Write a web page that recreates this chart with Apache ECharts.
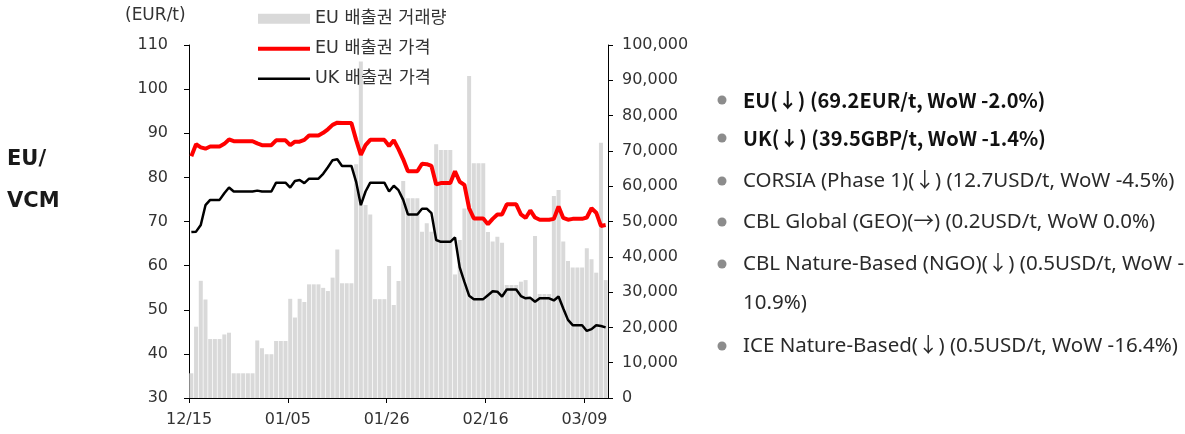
<!DOCTYPE html>
<html>
<head>
<meta charset="utf-8">
<script src="https://cdn.jsdelivr.net/npm/echarts@6/dist/echarts.min.js"></script>
<style>
  html, body { margin: 0; padding: 0; background: #ffffff; }
  #chart { width: 1185px; height: 434px; }
</style>
</head>
<body>
<div id="chart"></div>
<script>
// ---- DATA ----
const dates = [
  '12/15','12/16','12/17','12/18','12/19','12/20','12/21','12/22','12/23','12/24','12/25','12/26','12/27','12/28','12/29','12/30','12/31',
  '01/01','01/02','01/03','01/04','01/05','01/06','01/07','01/08','01/09','01/10','01/11','01/12','01/13','01/14','01/15','01/16','01/17','01/18','01/19','01/20','01/21','01/22','01/23','01/24','01/25','01/26','01/27','01/28','01/29','01/30','01/31',
  '02/01','02/02','02/03','02/04','02/05','02/06','02/07','02/08','02/09','02/10','02/11','02/12','02/13','02/14','02/15','02/16','02/17','02/18','02/19','02/20','02/21','02/22','02/23','02/24','02/25','02/26','02/27','02/28',
  '03/01','03/02','03/03','03/04','03/05','03/06','03/07','03/08','03/09','03/10','03/11','03/12','03/13'
];
const tickLabels = ['12/15','01/05','01/26','02/16','03/09'];

const euVolume = [
  7000,20200,33200,27900,16700,16700,16700,18000,18500,7000,7000,7000,7000,7000,16300,14100,12400,12400,16150,16150,16150,
  28100,22800,28100,27200,32200,32200,32200,31200,30300,34100,42100,32500,32500,32500,66200,95300,54700,52000,28000,28000,28000,
  37400,26350,33150,61500,56600,56600,56600,47100,49500,47100,71900,70250,70250,70250,35000,44750,53700,91200,66500,66500,66500,
  47000,44300,45700,44000,32000,32000,32000,32950,33400,28200,45900,29450,29450,29450,57200,58900,44300,38800,37000,37000,37000,
  42400,39300,35500,72300,33400
];
const euPrice = [
  84.8,87.5,86.8,86.5,87.0,87.0,87.0,87.6,88.6,88.2,88.2,88.2,88.2,88.2,87.7,87.3,87.3,87.3,88.4,88.4,88.4,
  87.3,88.1,88.1,88.5,89.5,89.5,89.5,90.1,90.9,91.9,92.4,92.3,92.3,92.3,88.5,85.1,87.3,88.5,88.5,88.5,88.5,
  87.1,88.4,86.4,84.1,81.4,81.4,81.4,83.1,83.0,82.6,78.4,78.7,78.7,78.7,81.4,79.0,78.3,73.0,70.7,70.7,70.7,
  69.4,70.6,71.6,71.6,73.9,73.9,73.9,71.6,70.8,72.5,70.9,70.4,70.4,70.4,70.6,73.4,70.8,70.4,70.6,70.6,70.6,
  70.9,73.0,72.0,69.0,69.2
];
const ukPrice = [
  67.6,67.7,69.2,73.7,74.9,74.9,74.9,76.4,77.7,76.8,76.8,76.8,76.8,76.8,77.0,76.8,76.8,76.8,78.8,78.8,78.8,
  77.7,79.2,79.4,78.7,79.7,79.7,79.7,80.8,82.3,83.9,84.1,82.6,82.6,82.6,79.0,73.7,76.8,78.8,78.8,78.8,78.8,
  76.8,78.1,77.1,74.9,71.6,71.6,71.6,72.9,72.9,71.9,65.8,65.4,65.4,65.4,66.4,59.6,56.3,53.2,52.4,52.4,52.4,
  53.3,54.2,54.1,53.0,54.6,54.6,54.6,53.1,52.6,52.7,51.8,52.6,52.6,52.6,52.1,53.0,50.3,47.7,46.5,46.5,46.5,
  45.2,45.6,46.5,46.3,46.0
];
const seriesNames = ['EU 배출권 거래량', 'EU 배출권 가격', 'UK 배출권 가격'];
const sideTitle = ['EU/', 'VCM'];
const notes = [
  { text: 'EU(↓) (69.2EUR/t, WoW -2.0%)', bold: true },
  { text: 'UK(↓) (39.5GBP/t, WoW -1.4%)', bold: true },
  { text: 'CORSIA (Phase 1)(↓) (12.7USD/t, WoW -4.5%)', bold: false },
  { text: 'CBL Global (GEO)(→) (0.2USD/t, WoW 0.0%)', bold: false },
  { text: 'CBL Nature-Based (NGO)(↓) (0.5USD/t, WoW -', cont: '10.9%)', bold: false },
  { text: 'ICE Nature-Based(↓) (0.5USD/t, WoW -16.4%)', bold: false }
];

// ---- BUILD ----
const AXFONT = '"DejaVu Sans", "Noto Sans CJK KR", sans-serif';
const TXFONT = '"Noto Sans", "Noto Sans CJK KR", sans-serif';
const BDFONT = '"Noto Sans CJK KR", "Noto Sans", sans-serif';
const tickVals = tickLabels.map(l => dates.indexOf(l));
const toPts = arr => arr.map((v, i) => [i + 0.5, v]);

const graphics = [];
graphics.push({ type: 'text', left: 125, top: 7, style: { text: '(EUR/t)', font: '17px ' + AXFONT, fill: '#333' } });
graphics.push({ type: 'text', x: 7, y: 160, style: { text: sideTitle[0], font: 'bold 21px ' + AXFONT, fill: '#1a1a1a', verticalAlign: 'middle' } });
graphics.push({ type: 'text', x: 7, y: 202, style: { text: sideTitle[1], font: 'bold 21px ' + AXFONT, fill: '#1a1a1a', verticalAlign: 'middle' } });

const lineYs = [100, 138, 181, 222, 264, 346];
notes.forEach((n, k) => {
  const y = lineYs[k];
  graphics.push({ type: 'circle', shape: { cx: 722, cy: y, r: 4.5 }, style: { fill: '#8c8c8c' } });
  graphics.push({ type: 'text', x: 743, y: y, style: { text: n.text, font: n.bold ? ('bold 20px ' + BDFONT) : ('20.5px ' + TXFONT), fill: n.bold ? '#111' : '#2a2a2a', verticalAlign: 'middle' } });
  if (n.cont) {
    graphics.push({ type: 'text', x: 743, y: y + 39, style: { text: n.cont, font: '20.5px ' + TXFONT, fill: '#2a2a2a', verticalAlign: 'middle' } });
  }
});

const chart = echarts.init(document.getElementById('chart'), null, { renderer: 'canvas' });
chart.setOption({
  animation: false,
  backgroundColor: '#ffffff',
  textStyle: { fontFamily: AXFONT },
  grid: { left: 189, right: 577, top: 45, bottom: 36, containLabel: false },
  legend: {
    orient: 'vertical', left: 253, top: 5,
    itemWidth: 52, itemHeight: 10, itemGap: 12.5,
    textStyle: { fontSize: 17.5, color: '#333', lineHeight: 16, fontFamily: AXFONT },
    data: [
      { name: seriesNames[0], icon: 'rect' },
      { name: seriesNames[1], icon: 'path://M0,0H52V4H0Z' },
      { name: seriesNames[2], icon: 'path://M0,0H52V2.5H0Z' }
    ]
  },
  xAxis: {
    type: 'value', min: 0, max: dates.length,
    splitLine: { show: false },
    axisLine: { show: true, lineStyle: { color: '#000', width: 1 } },
    axisTick: { show: true, customValues: tickVals, length: 5, lineStyle: { color: '#000' } },
    axisLabel: {
      customValues: tickVals, margin: 14, fontSize: 16, color: '#333', fontFamily: AXFONT,
      formatter: v => dates[Math.round(v)] || ''
    }
  },
  yAxis: [
    {
      type: 'value', min: 30, max: 110, interval: 10, position: 'left',
      splitLine: { show: false },
      axisLine: { show: true, lineStyle: { color: '#000', width: 1 } },
      axisTick: { show: true, length: 5, lineStyle: { color: '#000' } },
      axisLabel: { margin: 21, fontSize: 16, color: '#333', fontFamily: AXFONT }
    },
    {
      type: 'value', min: 0, max: 100000, interval: 10000, position: 'right',
      splitLine: { show: false },
      axisLine: { show: true, lineStyle: { color: '#000', width: 1 } },
      axisTick: { show: true, length: 5, lineStyle: { color: '#000' } },
      axisLabel: { margin: 14, fontSize: 16, color: '#333', fontFamily: AXFONT,
        formatter: v => v.toLocaleString('en-US') }
    }
  ],
  series: [
    {
      name: seriesNames[0], type: 'bar', yAxisIndex: 1, data: toPts(euVolume),
      barWidth: 4, itemStyle: { color: '#d9d9d9' }, z: 1
    },
    {
      name: seriesNames[1], type: 'line', yAxisIndex: 0, data: toPts(euPrice),
      symbol: 'none', lineStyle: { color: '#ff0000', width: 4 }, itemStyle: { color: '#ff0000' }, z: 3
    },
    {
      name: seriesNames[2], type: 'line', yAxisIndex: 0, data: toPts(ukPrice),
      symbol: 'none', lineStyle: { color: '#000000', width: 2.5 }, itemStyle: { color: '#000000' }, z: 4
    }
  ],
  graphic: graphics
});
</script>
</body>
</html>
